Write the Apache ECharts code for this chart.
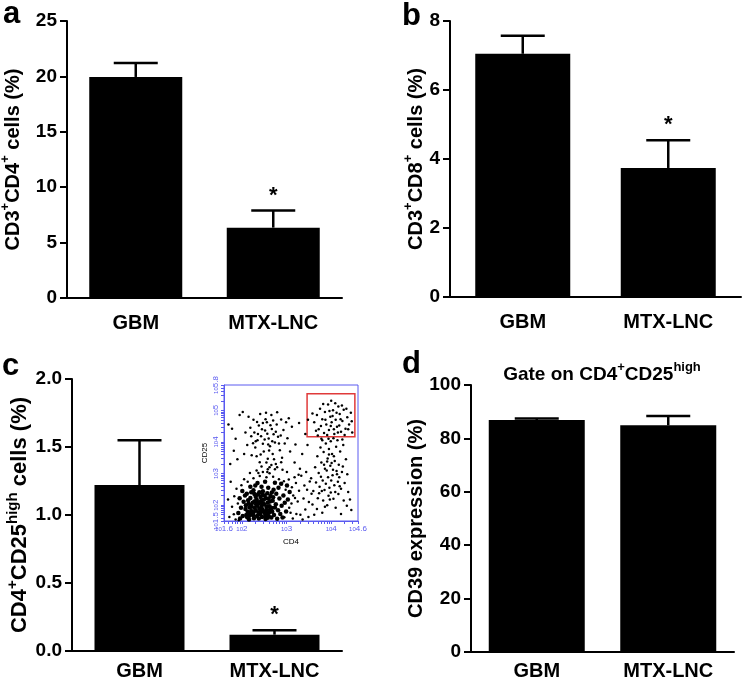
<!DOCTYPE html>
<html>
<head>
<meta charset="utf-8">
<script src="https://cdn.jsdelivr.net/npm/echarts@6/dist/echarts.min.js"></script>
<style>
  html, body { margin: 0; padding: 0; background: #fff; }
  #main { width: 742px; height: 679px; }
</style>
</head>
<body>
<div id="main"></div>
<script>
  // groups
  const categories = ['GBM', 'MTX-LNC'];

  // a: CD3+CD4+ cells (%)
  const cd4Mean = [19.95, 6.35];
  const cd4Sem = [1.25, 1.55];
  const cd4Sig = ['', '*'];
  // b: CD3+CD8+ cells (%)
  const cd8Mean = [7.05, 3.74];
  const cd8Sem = [0.52, 0.8];
  const cd8Sig = ['', '*'];
  // c: CD4+CD25high cells (%)
  const tregMean = [1.22, 0.12];
  const tregSem = [0.33, 0.033];
  const tregSig = ['', '*'];
  // d: CD39 expression (%)
  const cd39Mean = [86.9, 84.9];
  const cd39Sem = [0.6, 3.5];
  const cd39Sig = ['', ''];

  // inset flow plot, values read in log10 units (CD4, CD25)
  const insetXLabels = [1.6, 2, 3, 4, 4.6];
  const insetYLabels = [1.5, 2, 3, 4, 5, 5.8];
  const gateBox = [3.46, 4.16, 4.53, 5.52];

  const coreEvents = [
    [2.12,1.62],[2.18,1.75],[2.25,1.68],[2.31,1.83],[2.22,1.95],[2.15,2.05],[2.28,2.12],[2.35,1.98],[2.41,1.71],[2.46,1.86],
    [2.52,1.64],[2.55,1.95],[2.61,1.78],[2.58,2.08],[2.49,2.17],[2.42,2.26],[2.36,2.34],[2.67,1.91],[2.72,1.69],[2.69,2.14],
    [2.76,2.03],[2.81,1.84],[2.64,2.29],[2.57,2.38],[2.47,2.44],[2.33,2.18],[2.19,2.23],[2.08,1.88],[2.04,2.11],[2.11,2.36],
    [2.26,2.47],[2.38,1.58],[2.53,1.56],[2.66,1.61],[2.79,1.57],[2.86,1.72],[2.89,1.98],[2.84,2.21],[2.77,2.36],[2.71,2.49],
    [2.59,2.55],[2.44,2.58],[2.30,2.62],[2.16,1.55],[2.02,1.66],[1.98,1.92],[2.07,2.31],[2.21,1.82],[2.29,1.91],[2.37,1.77],
    [2.44,1.95],[2.50,2.03],[2.56,1.72],[2.62,1.97],[2.48,1.80],[2.40,2.07],[2.32,2.02],[2.24,2.08],[2.17,1.93],[2.13,1.79],
    [2.27,1.59],[2.34,1.66],[2.45,1.63],[2.60,1.66],[2.68,1.79],[2.74,1.93],[2.70,2.25],[2.63,2.12],[2.54,2.22],[2.46,2.33],
    [2.39,2.41],[2.21,2.41],[2.14,2.16],[2.09,2.00],[2.23,1.73],[2.55,1.85],[2.51,2.31],[2.67,2.40],[2.82,2.55],[2.93,2.31],
    [2.96,2.08],[2.99,1.80],[2.91,1.61],[3.03,2.18],[3.07,2.42],[3.01,2.62],[2.88,2.68],[2.74,2.71],[2.52,2.74],[2.35,2.70],
    [2.19,2.58],[2.01,2.45],[1.95,2.22],[1.92,1.75],[1.96,1.58],[2.10,1.69],[2.20,2.00],[2.31,2.27],[2.43,2.13],[2.58,1.60],
    [2.26,1.78],[2.39,1.89],[2.51,1.75],[2.63,1.86],[2.35,2.10],[2.47,2.05],[2.60,2.20],[2.28,2.35],[2.16,1.66],[2.42,1.80]
  ];
  const spreadEvents = [
    [1.72,1.63],[1.78,1.95],[1.83,2.28],[1.86,1.55],[1.88,2.52],[1.75,2.74],[1.91,2.05],[1.99,2.63],[2.05,2.82],[2.13,2.74],
    [2.26,2.85],[2.40,2.92],[2.55,2.88],[2.62,3.01],[2.70,2.90],[2.83,2.82],[2.94,2.76],[3.05,2.81],[3.12,2.57],[3.15,2.31],
    [3.11,2.05],[3.09,1.76],[3.14,1.58],[3.22,1.72],[3.25,2.12],[3.28,2.46],[3.21,2.70],[3.33,2.93],[3.38,2.21],[3.42,1.86],
    [3.46,2.49],[3.52,2.75],[3.49,1.63],[3.36,1.55],[3.18,2.88],[3.01,3.05],[2.91,3.12],[2.79,3.20],[2.66,3.27],[2.88,3.36],
    [3.27,2.96],[3.40,2.62],[3.56,2.36],[3.31,1.70],[3.19,2.23],[2.98,2.49],[3.06,1.92],[2.95,1.62],[1.82,1.71],[1.93,1.52],
    [1.69,2.18],[2.47,3.05],[2.58,3.14],[2.33,3.10],[2.18,3.02],[3.44,3.05],
    // upper-left population
    [2.22,3.58],[2.30,3.82],[2.35,4.05],[2.28,4.30],[2.38,4.52],[2.43,4.18],[2.47,3.94],[2.52,4.36],[2.56,4.62],[2.60,4.11],
    [2.63,3.86],[2.67,4.41],[2.71,4.24],[2.74,3.98],[2.78,4.55],[2.81,4.16],[2.85,3.74],[2.69,3.62],[2.58,3.47],[2.49,3.70],
    [2.40,3.36],[2.33,3.55],[2.25,3.96],[2.19,4.45],[2.15,4.80],[2.26,4.70],[2.41,4.88],[2.54,4.92],[2.66,4.85],[2.79,4.94],
    [2.88,4.71],[2.93,4.38],[2.96,3.95],[2.90,3.50],[2.76,3.30],[2.62,3.20],[2.44,3.22],[2.37,3.02],[2.55,3.35],[2.72,3.45],
    [2.51,4.08],[2.45,4.40],[2.57,4.26],[2.64,4.53],[2.36,4.25],[2.31,4.02],[2.59,3.92],[2.68,4.02],[2.76,4.32],[2.53,4.72],
    [2.42,3.60],[2.83,3.95],[2.47,4.60],[2.70,4.68],[2.61,3.73],[2.34,4.63],[2.21,4.18],[2.87,4.20],[2.99,4.62],[2.12,3.90],
    [2.74,3.14],[2.57,3.05],
    // stray events
    [1.70,4.55],[1.78,4.42],[1.86,4.10],[1.95,4.85],[1.82,3.72],[2.02,4.95],[1.74,3.30],[1.90,3.45],[2.05,3.62],[2.08,4.30],
    [3.05,4.75],[3.12,4.48],[3.20,3.92],[3.28,4.60],[3.35,3.62],[3.42,4.25],[3.18,3.35],[3.08,3.70],[3.47,3.90],[3.30,3.15],
    [3.48,4.70],[3.02,4.12],
    // CD4 high population
    [3.88,3.95],[3.95,3.78],[4.02,3.62],[3.92,3.48],[4.08,3.40],[3.98,3.25],[3.86,3.15],[4.12,3.08],[4.03,2.95],[3.93,2.88],
    [3.81,2.78],[4.15,2.74],[4.07,2.63],[3.96,2.55],[3.85,2.48],[3.74,2.58],[4.22,2.52],[4.18,2.88],[4.26,3.22],[3.78,3.35],
    [3.72,3.02],[3.66,2.72],[3.60,2.45],[3.70,2.22],[3.82,2.15],[3.94,2.30],[4.05,2.20],[4.16,2.35],[4.28,2.15],[4.35,1.98],
    [3.58,2.02],[3.68,1.88],[3.80,1.76],[3.91,2.00],[4.10,1.92],[4.22,1.72],[4.38,2.42],[4.30,2.70],[4.33,3.45],[4.20,3.70],
    [4.11,3.85],[3.99,4.02],[3.83,3.68],[3.76,3.82],[4.06,3.55],[3.90,3.10],[4.00,2.78],[3.88,2.68],[4.13,2.98],[3.77,2.90],
    [3.64,3.20],[3.55,2.85],[4.24,3.05],[4.01,3.33],[3.95,3.60],[3.84,3.28],[4.17,3.28],[3.69,3.55],[4.09,2.42],[3.99,2.40],
    [3.73,2.38],[3.86,1.95],[4.42,2.18],[4.45,1.85],[3.62,1.70],[3.50,2.10],[4.27,3.90],[3.94,4.10],[4.14,4.05],[3.80,4.05],
    [4.04,3.12],[3.91,3.38],[3.97,2.18],[4.19,2.60],[3.79,2.45],[4.36,2.98],[3.78,4.10],[4.05,4.12],[4.25,4.08]
  ];
  const gateEvents = [
    [3.62,4.62],[3.68,4.85],[3.72,4.40],[3.75,5.05],[3.80,4.72],[3.84,4.28],[3.86,4.95],[3.89,4.55],[3.93,5.18],[3.95,4.38],
    [3.98,4.80],[4.01,4.62],[4.04,5.00],[4.07,4.25],[4.10,4.70],[4.13,4.48],[4.16,5.12],[4.19,4.88],[4.22,4.32],[4.25,4.66],
    [4.28,5.02],[4.32,4.42],[4.36,4.78],[4.40,4.55],[4.44,4.92],[4.47,4.30],[3.70,4.20],[3.82,5.20],[3.91,4.22],[4.00,5.30],
    [4.09,5.22],[4.18,4.52],[4.30,4.22],[3.77,4.50],[3.96,4.98],[4.06,4.40],[4.24,5.15],[3.66,4.35],[4.12,4.92],[4.34,5.05],
    [3.87,4.70],[4.03,4.82],[4.21,4.72],[3.99,4.50],[4.15,4.30],[4.38,4.40],[3.58,4.90],[4.46,4.65]
  ];

  const FONT = '"Liberation Sans", Arial, Helvetica, sans-serif';
  const BLUE = '#5a5af0';

  function nameRich(size, supSize) {
    return {
      n: {fontSize: size, fontWeight: 'bold', fontFamily: FONT, color: '#000', lineHeight: size + 8},
      s: {fontSize: supSize, fontWeight: 'bold', fontFamily: FONT, color: '#000', verticalAlign: 'top', lineHeight: supSize + 1}
    };
  }

  function catAxis(gi, margin) {
    return {
      type: 'category', gridIndex: gi, data: categories,
      axisLine: {lineStyle: {color: '#000', width: 2}},
      axisTick: {show: false},
      axisLabel: {color: '#000', fontSize: 20, fontWeight: 'bold', fontFamily: FONT, margin: margin}
    };
  }

  function valAxis(gi, max, interval, name, gap, size, supSize, digits) {
    return {
      type: 'value', gridIndex: gi, min: 0, max: max, interval: interval,
      name: name, nameLocation: 'middle', nameRotate: 90, nameGap: gap, nameMoveOverlap: false,
      nameTextStyle: {fontSize: size, fontWeight: 'bold', fontFamily: FONT, color: '#000', rich: nameRich(size, supSize)},
      axisLine: {show: true, lineStyle: {color: '#000', width: 2}},
      axisTick: {show: true, length: 7, lineStyle: {color: '#000', width: 2}},
      axisLabel: {color: '#000', fontSize: 19, fontWeight: 'bold', fontFamily: FONT, margin: 10,
        formatter: v => digits ? v.toFixed(digits) : String(v)},
      splitLine: {show: false}
    };
  }

  function bars(gi, means, width) {
    return {
      type: 'bar', xAxisIndex: gi, yAxisIndex: gi, data: means, barWidth: width,
      itemStyle: {color: '#000'}, silent: true
    };
  }

  function errorBars(gi, means, sems, sig) {
    return {
      type: 'custom', xAxisIndex: gi, yAxisIndex: gi, silent: true,
      data: means.map((m, i) => [i, m, m + sems[i]]),
      renderItem: function (params, api) {
        const base = api.coord([api.value(0), api.value(1)]);
        const top = api.coord([api.value(0), api.value(2)]);
        const line = {stroke: '#000', lineWidth: 2.5};
        const children = [
          {type: 'line', shape: {x1: base[0], y1: base[1], x2: top[0], y2: top[1]}, style: line},
          {type: 'line', shape: {x1: top[0] - 22, y1: top[1], x2: top[0] + 22, y2: top[1]}, style: line}
        ];
        if (sig[params.dataIndex]) {
          children.push({type: 'text', x: top[0], y: top[1] - 15,
            style: {text: sig[params.dataIndex], fontSize: 22, fontWeight: 'bold', fontFamily: FONT,
              fill: '#000', align: 'center', verticalAlign: 'middle'}});
        }
        return {type: 'group', children: children};
      }
    };
  }

  function logTicks(lo, hi) {
    const t = [];
    for (let n = 1; n <= 5; n++) {
      for (let k = 1; k < 10; k++) {
        const v = n + Math.log10(k);
        if (v >= lo - 1e-9 && v <= hi + 1e-9) t.push(+v.toFixed(4));
      }
    }
    return t.concat([lo, hi]);
  }

  const powRich = {
    b: {fontSize: 6, color: BLUE, fontFamily: FONT},
    e: {fontSize: 8, color: BLUE, fontFamily: FONT, verticalAlign: 'top', lineHeight: 8}
  };
  const powLabel = v => '{b|10}{e|' + (Number.isInteger(v) ? v : v.toFixed(1)) + '}';

  const chart = echarts.init(document.getElementById('main'), null, {renderer: 'canvas'});

  const option = {
    animation: false,
    backgroundColor: '#fff',
    title: [
      {text: 'a', left: 3, top: -1},
      {text: 'b', left: 402, top: 1},
      {text: 'c', left: 2, top: 351},
      {text: 'd', left: 402, top: 349},
      {text: '{n|Gate on CD4}{s|+}{n|CD25}{s|high}', left: 602, top: 361, textAlign: 'center',
        textStyle: {rich: nameRich(19, 13)}}
    ].map(t => Object.assign({padding: 0, textStyle: {fontSize: 31, fontWeight: 'bold', fontFamily: FONT, color: '#000', lineHeight: 31}}, t)),
    grid: [
      {left: 67, top: 21, width: 275, height: 277},
      {left: 450, top: 21, width: 291, height: 276},
      {left: 72, top: 379, width: 270, height: 272},
      {left: 471, top: 385, width: 263, height: 267},
      {left: 224, top: 385, width: 134, height: 136, show: true, borderColor: BLUE, borderWidth: 1, backgroundColor: '#fff'}
    ].map(g => Object.assign({containLabel: false, outerBoundsMode: 'none'}, g)),
    xAxis: [
      catAxis(0, 15), catAxis(1, 15), catAxis(2, 10), catAxis(3, 9),
      {
        type: 'value', gridIndex: 4, min: 1.6, max: 4.6,
        name: 'CD4', nameLocation: 'middle', nameGap: 17, nameMoveOverlap: false,
        nameTextStyle: {fontSize: 8, color: '#000', fontFamily: FONT},
        axisLine: {show: true, lineStyle: {color: BLUE, width: 1}},
        axisTick: {show: true, length: 3, customValues: logTicks(1.6, 4.6), lineStyle: {color: BLUE}},
        axisLabel: {customValues: insetXLabels, formatter: powLabel, rich: powRich, margin: 4, showMinLabel: true, showMaxLabel: true},
        splitLine: {show: false}
      }
    ],
    yAxis: [
      valAxis(0, 25, 5, '{n|CD3}{s|+}{n|CD4}{s|+}{n| cells (%)}', 40, 20, 13, 0),
      valAxis(1, 8, 2, '{n|CD3}{s|+}{n|CD8}{s|+}{n| cells (%)}', 20, 20, 13, 0),
      valAxis(2, 2, 0.5, '{n|CD4}{s|+}{n|CD25}{s|high}{n| cells (%)}', 37, 22, 15, 1),
      valAxis(3, 100, 20, '{n|CD39 expression (%)}', 41, 20, 13, 0),
      {
        type: 'value', gridIndex: 4, min: 1.5, max: 5.8,
        name: 'CD25', nameLocation: 'middle', nameRotate: 90, nameGap: 15, nameMoveOverlap: false,
        nameTextStyle: {fontSize: 8, color: '#000', fontFamily: FONT},
        axisLine: {show: true, lineStyle: {color: BLUE, width: 1}},
        axisTick: {show: true, length: 3, customValues: logTicks(1.5, 5.8), lineStyle: {color: BLUE}},
        axisLabel: {customValues: insetYLabels, formatter: powLabel, rich: powRich, rotate: 90, margin: 4, showMinLabel: true, showMaxLabel: true},
        splitLine: {show: false}
      }
    ],
    series: [
      bars(0, cd4Mean, 93), errorBars(0, cd4Mean, cd4Sem, cd4Sig),
      bars(1, cd8Mean, 95), errorBars(1, cd8Mean, cd8Sem, cd8Sig),
      bars(2, tregMean, 90), errorBars(2, tregMean, tregSem, tregSig),
      bars(3, cd39Mean, 96), errorBars(3, cd39Mean, cd39Sem, cd39Sig),
      {type: 'scatter', xAxisIndex: 4, yAxisIndex: 4, data: coreEvents, symbolSize: 4.5, silent: true,
        itemStyle: {color: '#000', opacity: 1}},
      {type: 'scatter', xAxisIndex: 4, yAxisIndex: 4, data: spreadEvents, symbolSize: 2.5, silent: true,
        itemStyle: {color: '#000', opacity: 1}},
      {type: 'scatter', xAxisIndex: 4, yAxisIndex: 4, data: gateEvents, symbolSize: 2.5, silent: true,
        itemStyle: {color: '#000', opacity: 1},
        markArea: {silent: true, itemStyle: {color: 'rgba(0,0,0,0)', borderColor: '#e03a3a', borderWidth: 1.5},
          data: [[{coord: [gateBox[0], gateBox[1]]}, {coord: [gateBox[2], gateBox[3]]}]]}}
    ]
  };

  chart.setOption(option);
</script>
</body>
</html>
